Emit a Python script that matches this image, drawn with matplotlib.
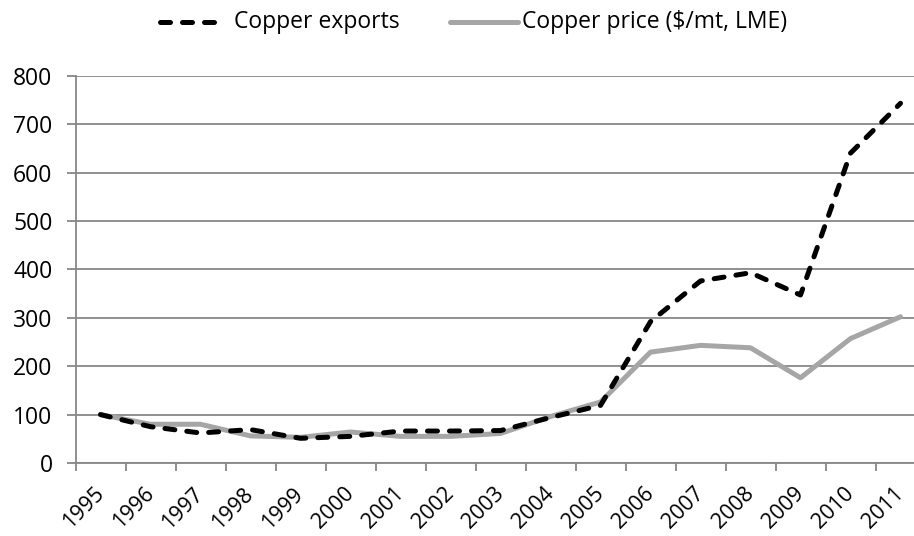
import matplotlib
matplotlib.use('Agg')
import matplotlib.pyplot as plt
from matplotlib.lines import Line2D

plt.rcParams['font.family'] = ['Open Sans', 'DejaVu Sans']

# Data (index, 1995 = 100)
years = ['1995', '1996', '1997', '1998', '1999', '2000', '2001', '2002', '2003',
         '2004', '2005', '2006', '2007', '2008', '2009', '2010', '2011']
exports = [100, 75, 62, 69, 51, 55, 66, 66, 67, 94, 119, 292, 376, 393, 347, 640, 743]
price = [100, 80, 80, 56, 53, 64, 55, 55, 61, 96, 126, 229, 243, 238, 176, 257, 302]
series_names = ['Copper exports', 'Copper price ($/mt, LME)']

grid_col = '#878787'
gray_line = '#A6A6A6'
dash = (0, (2.0, 2.4))
W, H = 914, 536

fig = plt.figure(figsize=(W / 100, H / 100), dpi=100)
ax = fig.add_axes([75.5 / W, (H - 463) / H, 850 / W, (463 - 75.7) / H])

x = range(len(years))
ax.plot(x, exports, color='black', lw=3.6, linestyle=dash,
        dash_capstyle='round', solid_joinstyle='round', zorder=4)
ax.plot(x, price, color=gray_line, lw=3.6, solid_capstyle='round',
        solid_joinstyle='round', zorder=3)

ax.set_xlim(-0.5, len(years) - 0.5)
ax.set_ylim(0, 800)
ax.set_yticks(range(0, 801, 100))
ax.yaxis.grid(True, color=grid_col, lw=1.3)
ax.set_axisbelow(True)

# category-boundary ticks, labels centred on categories
ax.set_xticks([i - 0.5 for i in range(len(years) + 1)])
ax.set_xticklabels([])
ax.set_xticks(list(x), minor=True)
ax.set_xticklabels(years, minor=True, rotation=45, ha='right', va='center',
                   rotation_mode='anchor', fontsize=15.5)
ax.tick_params(axis='x', which='major', length=5.5, width=1.3, color=grid_col)
ax.tick_params(axis='x', which='minor', length=0, pad=20)
ax.tick_params(axis='y', length=6.5, width=1.3, color=grid_col, labelsize=16.5, pad=10)

for s in ['top', 'right']:
    ax.spines[s].set_visible(False)
for s in ['left', 'bottom']:
    ax.spines[s].set_color(grid_col)
    ax.spines[s].set_linewidth(1.3)

# legend drawn by hand to match spacing of the original
ly = 1 - 22 / H
fig.add_artist(Line2D([160 / W, 215 / W], [ly, ly], color='black', lw=3.6,
                      linestyle=dash, dash_capstyle='round'))
fig.text(234 / W, ly, series_names[0], fontsize=16.5, va='center', ha='left')
fig.add_artist(Line2D([450 / W, 518 / W], [ly, ly], color=gray_line, lw=3.6,
                      solid_capstyle='round'))
fig.text(522 / W, ly, series_names[1], fontsize=16.5, va='center', ha='left')

fig.savefig('out.png', dpi=100)
